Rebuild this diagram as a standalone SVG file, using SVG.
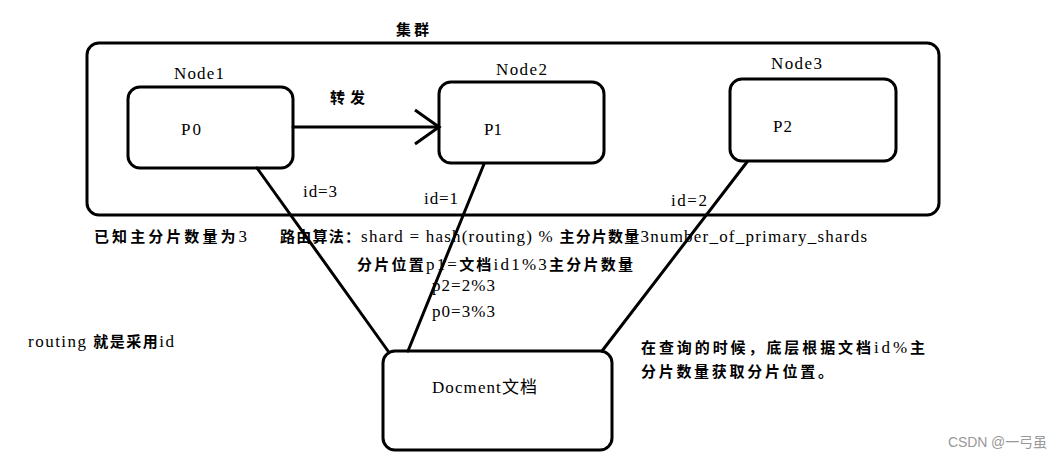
<svg xmlns="http://www.w3.org/2000/svg" width="1062" height="458" viewBox="0 0 1062 458">
<defs>
<style>
.box{fill:none;stroke:#000;stroke-width:3}
.ln{stroke:#000;stroke-width:3;fill:none;stroke-linecap:round}
text{font-family:'Liberation Serif','DejaVu Serif','Noto Sans CJK SC',serif;fill:#000}
.t{font-size:17px}
.c{font-size:15px;font-weight:bold}
.b{font-weight:bold;font-size:15px}
.w{font-family:'Liberation Sans','Noto Sans CJK SC',sans-serif;font-size:14px;fill:#999}
</style>
<marker id="open" viewBox="0 0 30 40" refX="27" refY="20" markerWidth="30" markerHeight="40" markerUnits="userSpaceOnUse" orient="auto">
<path d="M3,3 L27,20 L3,37" fill="none" stroke="#000" stroke-width="3"/>
</marker>
</defs>
<rect width="1062" height="458" fill="#fff"/>
<g id="cluster">
<rect class="box" x="87" y="43" width="852" height="172" rx="12"/>
<text class="c" x="396" y="35" textLength="33">集群</text>
</g>
<g id="node1">
<rect class="box" x="128" y="87" width="165" height="81" rx="12"/>
<text class="t" x="174" y="79" textLength="50">Node1</text>
<text class="t" x="181" y="135" textLength="20">P0</text>
</g>
<g id="node2">
<rect class="box" x="439" y="82" width="165" height="81" rx="12"/>
<text class="t" x="496" y="75" textLength="51">Node2</text>
<text class="t" x="484" y="135" textLength="18">P1</text>
</g>
<g id="node3">
<rect class="box" x="730" y="79" width="166" height="82" rx="12"/>
<text class="t" x="771" y="69" textLength="51">Node3</text>
<text class="t" x="773" y="132" textLength="19">P2</text>
</g>
<g id="document">
<rect class="box" x="383" y="351" width="229" height="99" rx="12"/>
<text class="t" x="432" y="393" textLength="105">Docment文档</text>
</g>
<g id="connectors">
<line class="ln" x1="293" y1="127" x2="439" y2="127" marker-end="url(#open)"/>
<line class="ln" x1="257" y1="168" x2="388" y2="351"/>
<line class="ln" x1="484" y1="164" x2="408" y2="351"/>
<line class="ln" x1="747" y1="162" x2="602" y2="351"/>
</g>
<g id="labels">
<text class="c" x="330" y="103" textLength="35">转发</text>
<text class="t" x="303" y="197" textLength="34">id=3</text>
<text class="t" x="424" y="204" textLength="34">id=1</text>
<text class="t" x="671" y="206" textLength="36">id=2</text>
<text class="t" x="94" y="242" textLength="153"><tspan class="b">已知主分片数量为</tspan>3</text>
<text class="t" x="280" y="242" textLength="587"><tspan class="b">路由算法：</tspan>shard = hash(routing) % <tspan class="b">主分片数量</tspan>3number_of_primary_shards</text>
<text class="t" x="357" y="270" textLength="276"><tspan class="b">分片位置</tspan>p1=<tspan class="b">文档</tspan>id1%3<tspan class="b">主分片数量</tspan></text>
<text class="t" x="432" y="291" textLength="63">p2=2%3</text>
<text class="t" x="432" y="317" textLength="63">p0=3%3</text>
<text class="t" x="28" y="347" textLength="146">routing <tspan class="b">就是采用</tspan>id</text>
<text class="t" x="641" y="353" textLength="284"><tspan class="b">在查询的时候，底层根据文档</tspan>id%<tspan class="b">主</tspan></text>
<text class="c" x="641" y="377" textLength="192">分片数量获取分片位置。</text>
<text class="w" x="948" y="447" textLength="99">CSDN @一弓虽</text>
</g>
</svg>
